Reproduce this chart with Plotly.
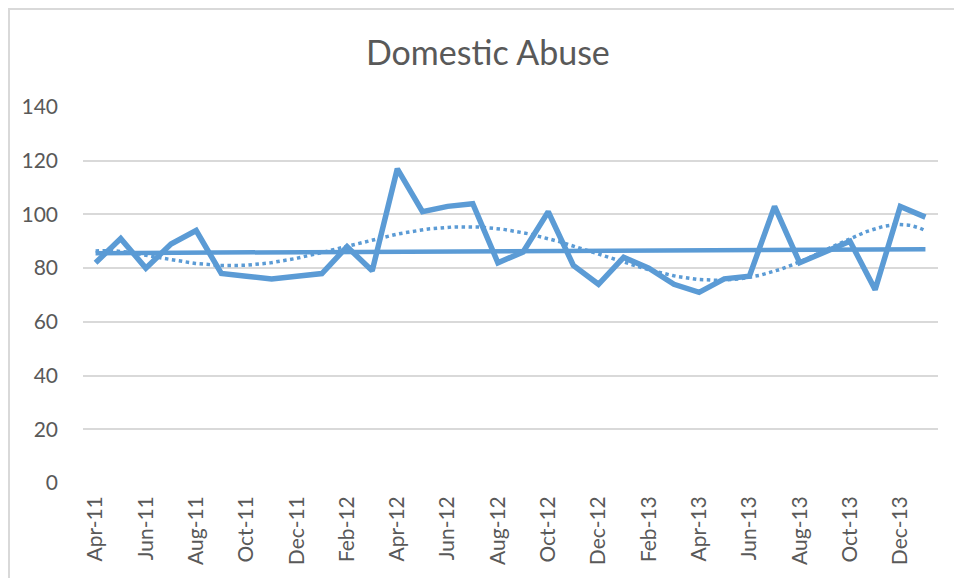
import numpy as np
import plotly.graph_objects as go

months = ["Apr-11", "May-11", "Jun-11", "Jul-11", "Aug-11", "Sep-11", "Oct-11", "Nov-11",
          "Dec-11", "Jan-12", "Feb-12", "Mar-12", "Apr-12", "May-12", "Jun-12", "Jul-12",
          "Aug-12", "Sep-12", "Oct-12", "Nov-12", "Dec-12", "Jan-13", "Feb-13", "Mar-13",
          "Apr-13", "May-13", "Jun-13", "Jul-13", "Aug-13", "Sep-13", "Oct-13", "Nov-13",
          "Dec-13", "Jan-14"]
values = [82, 91, 80, 89, 94, 78, 77, 76, 77, 78, 88, 79, 117, 101, 103, 104,
          82, 86, 101, 81, 74, 84, 80, 74, 71, 76, 77, 103, 82, 86, 90, 72, 103, 99]
y_ticks = [0, 20, 40, 60, 80, 100, 120, 140]

BLUE = "#5B9BD5"
GRID = "#D9D9D9"
TEXT = "#595959"

# page body has an 8px margin; figure size compensates
W, H = 954, 570
ML, MR, MT, MB = 75, 24, 99, 95

idx = np.arange(len(values))
lin = np.polynomial.Polynomial.fit(idx, values, 1)
poly = np.polynomial.Polynomial.fit(idx, values, 6)
xf = np.linspace(0, len(values) - 1, 400)

fig = go.Figure()
fig.add_trace(go.Scatter(x=idx, y=values, mode="lines",
                         line=dict(color=BLUE, width=5.5), hoverinfo="skip"))
fig.add_trace(go.Scatter(x=xf, y=lin(xf), mode="lines",
                         line=dict(color=BLUE, width=4.5), hoverinfo="skip"))
fig.add_trace(go.Scatter(x=xf, y=poly(xf), mode="lines",
                         line=dict(color=BLUE, width=3.5, dash="dot"), hoverinfo="skip"))

pw, ph = W - ML - MR, H - MT - MB
fig.add_shape(type="rect", xref="paper", yref="paper",
              x0=(1 - ML) / pw, x1=(W + 10 - ML) / pw,
              y0=-(MB + 10) / ph, y1=1 + (MT - 1) / ph,
              line=dict(color=GRID, width=2), fillcolor="rgba(0,0,0,0)", layer="below")

fig.update_layout(
    width=W, height=H,
    margin=dict(l=ML, r=MR, t=MT, b=MB),
    paper_bgcolor="white", plot_bgcolor="white",
    showlegend=False,
    title=dict(text="Domestic Abuse", x=0.503, xanchor="center", y=1 - 45 / H, yanchor="middle",
               font=dict(family="Lato", size=34, color=TEXT)),
    font=dict(family="Lato", color=TEXT),
)
fig.update_xaxes(
    range=[-0.5, len(values) - 0.5],
    tickmode="array", tickvals=idx[::2], ticktext=months[::2],
    tickangle=-90, tickfont=dict(size=21, color=TEXT),
    showgrid=False, zeroline=False, showline=False, ticks="", ticklabelstandoff=8,
)
fig.update_yaxes(
    range=[0, 140], tickmode="array", tickvals=y_ticks,
    tickfont=dict(size=21, color=TEXT),
    showgrid=True, gridcolor=GRID, gridwidth=2, zeroline=False, showline=False,
    ticks="", ticklabelstandoff=24,
)

fig.write_html("out.html")
